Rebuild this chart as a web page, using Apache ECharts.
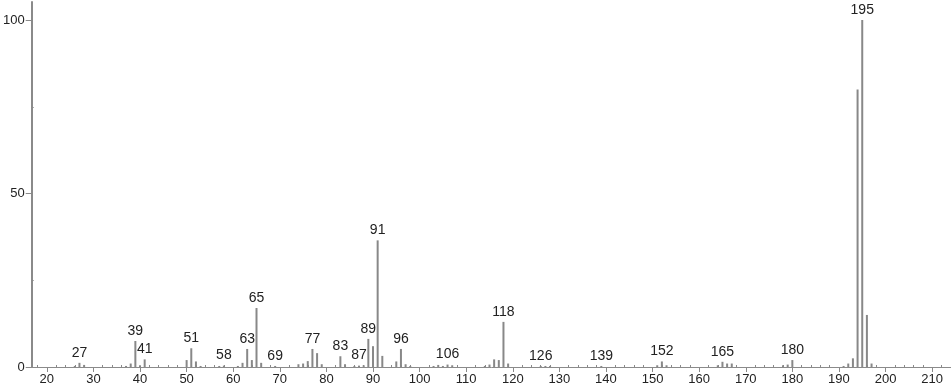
<!DOCTYPE html>
<html>
<head>
<meta charset="utf-8">
<script src="https://cdn.jsdelivr.net/npm/echarts@6/dist/echarts.min.js"></script>
<style>
html,body{margin:0;padding:0;background:#fff;}
#chart{width:951px;height:389px;}
</style>
</head>
<body>
<div id="chart"></div>
<script>
// m/z values and relative intensities (%)
const mz = [26,27,28,37,38,39,40,41,50,51,52,53,57,58,61,62,63,64,65,66,69,74,75,76,77,78,79,83,84,86,87,88,89,90,91,92,95,96,97,98,103,104,105,106,107,114,115,116,117,118,119,126,127,128,139,151,152,153,164,165,166,167,178,179,180,191,192,193,194,195,196,197];
const intensity = [0.3,1.2,0.6,0.3,1.0,7.5,0.5,2.2,2.0,5.4,1.6,0.3,0.3,0.4,0.3,1.2,5.2,2.0,17.0,1.2,0.3,0.8,1.0,1.7,5.2,4.0,0.8,3.1,0.8,0.3,0.4,0.5,8.1,6.0,36.5,3.2,1.6,5.2,0.8,0.3,0.3,0.6,0.3,0.7,0.5,0.3,0.7,2.2,2.0,13.0,1.0,0.3,0.3,0.3,0.3,0.5,1.6,0.5,0.5,1.5,1.0,1.0,0.5,0.7,2.0,0.3,1.0,2.5,80.0,100.0,15.0,1.0];
const labeledPeaks = [27,39,41,51,58,63,65,69,77,83,87,89,91,96,106,118,126,139,152,165,180,195];
const xMajorTicks = [20,30,40,50,60,70,80,90,100,110,120,130,140,150,160,170,180,190,200,210];
const yLabelTicks = [0,50,100];
const yMinorTicks = [25,75];

const xMin = 16.75, xMax = 214.05, yMin = 0, yMax = 105.2;
const xMinor = [];
for (let v = 18; v <= 214; v += 2) if (v % 10 !== 0) xMinor.push(v);

const fontFam = '"Liberation Sans", "DejaVu Sans", sans-serif';
const axisCol = '#8a8a8a';

const data = mz.map((m, i) => {
  const item = { value: [m, intensity[i]] };
  if (labeledPeaks.indexOf(m) >= 0) item.label = { show: true };
  return item;
});

const chart = echarts.init(document.getElementById('chart'), null, { renderer: 'canvas' });
chart.setOption({
  animation: false,
  backgroundColor: '#ffffff',
  grid: { left: 29, right: 0, top: 2, bottom: 22 },
  xAxis: [
    {
      type: 'value', min: xMin, max: xMax,
      axisLine: { show: true, lineStyle: { color: axisCol, width: 1 } },
      axisTick: { show: true, customValues: xMajorTicks, length: 5, inside: false, lineStyle: { color: axisCol } },
      axisLabel: { show: true, customValues: xMajorTicks, color: '#222', fontSize: 13, fontFamily: fontFam, margin: 6 },
      splitLine: { show: false }
    },
    {
      type: 'value', min: xMin, max: xMax, position: 'bottom',
      axisLine: { show: false },
      axisTick: { show: true, customValues: xMinor, length: 2, inside: true, lineStyle: { color: axisCol } },
      axisLabel: { show: false },
      splitLine: { show: false }
    }
  ],
  yAxis: [
    {
      type: 'value', min: yMin, max: yMax,
      axisLine: { show: true, lineStyle: { color: axisCol, width: 2 } },
      axisTick: { show: true, customValues: yLabelTicks, length: 6, lineStyle: { color: axisCol } },
      axisLabel: { show: true, customValues: yLabelTicks, color: '#222', fontSize: 13, fontFamily: fontFam, margin: 7 },
      splitLine: { show: false }
    },
    {
      type: 'value', min: yMin, max: yMax, position: 'left',
      axisLine: { show: false },
      axisTick: { show: true, customValues: yMinorTicks, length: 2, inside: true, lineStyle: { color: axisCol } },
      axisLabel: { show: false },
      splitLine: { show: false }
    }
  ],
  series: [{
    type: 'bar',
    xAxisIndex: 0, yAxisIndex: 0,
    barWidth: 2,
    itemStyle: { color: '#888888' },
    label: {
      show: false, position: 'top', distance: 3,
      color: '#222', fontSize: 14, fontFamily: fontFam,
      formatter: p => String(p.value[0])
    },
    data: data
  }]
});
</script>
</body>
</html>
